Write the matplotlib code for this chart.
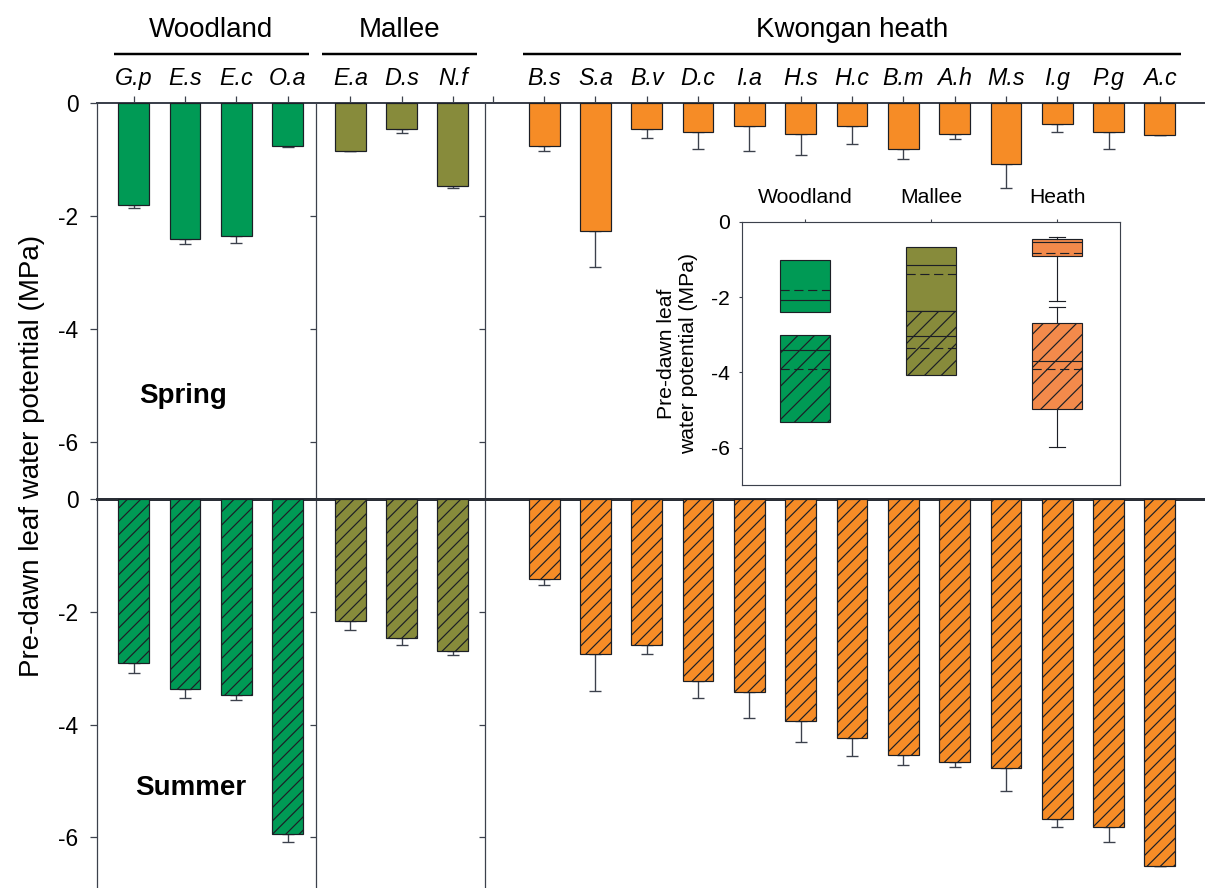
import numpy as np
import matplotlib
matplotlib.use('Agg')
import matplotlib.pyplot as plt
from matplotlib.lines import TICKLEFT
from matplotlib.transforms import blended_transform_factory

W, H, DPI = 1205, 888, 200


def pt(px):
    # sizes below are given in output pixels
    return px * 72 / DPI


plt.rcParams['font.family'] = ['Liberation Sans', 'DejaVu Sans']
plt.rcParams['axes.unicode_minus'] = False
plt.rcParams['hatch.linewidth'] = pt(1.2)

# species codes per vegetation type
woodland = ['G.p', 'E.s', 'E.c', 'O.a']
mallee = ['E.a', 'D.s', 'N.f']
heath = ['B.s', 'S.a', 'B.v', 'D.c', 'I.a', 'H.s', 'H.c', 'B.m', 'A.h', 'M.s', 'I.g', 'P.g', 'A.c']

# spring pre-dawn leaf water potential (MPa), mean and SE
spring_woodland = [-1.80, -2.41, -2.36, -0.77]
spring_woodland_se = [0.06, 0.08, 0.12, 0.02]
spring_mallee = [-0.86, -0.47, -1.47]
spring_mallee_se = [0.0, 0.06, 0.03]
spring_heath = [-0.76, -2.26, -0.47, -0.52, -0.41, -0.55, -0.41, -0.82, -0.55, -1.08, -0.37, -0.52, -0.57]
spring_heath_se = [0.10, 0.65, 0.15, 0.29, 0.45, 0.38, 0.32, 0.17, 0.09, 0.42, 0.14, 0.29, 0.0]

# summer
summer_woodland = [-2.91, -3.37, -3.47, -5.94]
summer_woodland_se = [0.18, 0.15, 0.09, 0.14]
summer_mallee = [-2.17, -2.46, -2.70]
summer_mallee_se = [0.16, 0.13, 0.06]
summer_heath = [-1.42, -2.75, -2.59, -3.23, -3.43, -3.93, -4.23, -4.54, -4.67, -4.77, -5.67, -5.81, -6.51]
summer_heath_se = [0.10, 0.65, 0.16, 0.29, 0.45, 0.38, 0.32, 0.17, 0.09, 0.41, 0.14, 0.28, 0.0]

# inset box statistics per vegetation type (nan = no whisker)
inset_types = ['Woodland', 'Mallee', 'Heath']
spring_q1 = [-2.39, -2.37, -0.91]
spring_q3 = [-1.02, -0.68, -0.47]
spring_med = [-2.07, -1.16, -0.55]
spring_mean = [-1.82, -1.39, -0.82]
spring_lo = [np.nan, np.nan, -2.10]
spring_hi = [np.nan, np.nan, -0.41]
summer_q1 = [-5.32, -4.08, -4.98]
summer_q3 = [-3.00, -2.37, -2.68]
summer_med = [-3.41, -3.03, -3.70]
summer_mean = [-3.91, -3.36, -3.90]
summer_lo = [np.nan, np.nan, -5.98]
summer_hi = [np.nan, np.nan, -2.26]

GREEN = '#009a55'
OLIVE = '#878b3b'
ORANGE = '#f68c26'
SALMON = '#f38a4b'
EDGE = '#1c1f26'
AXIS = '#3c414c'

fig = plt.figure(figsize=(W / DPI, H / DPI), dpi=DPI)


def px_box(x0, y0, x1, y1):
    return [x0 / W, 1 - y1 / H, (x1 - x0) / W, (y1 - y0) / H]


ax_sp = fig.add_axes(px_box(97.3, 102.7, W, 499))
ax_su = fig.add_axes(px_box(97.3, 499, W, H))

# slot positions along x
x_wood = np.arange(len(woodland)) + 0.71
x_mal = np.arange(len(mallee)) + 4.93
x_gap = 7.71
x_heath = np.arange(len(heath)) + 8.71
seps = [4.26, 7.56]


def draw_bars(ax, series, hatch):
    for x, vals, se, col in series:
        se = np.asarray(se)
        ax.bar(x, vals, width=0.6, color=col, edgecolor=EDGE, linewidth=pt(1.2),
               hatch=hatch, zorder=3)
        ax.errorbar(x, vals, yerr=[se, np.zeros_like(se)], fmt='none', ecolor=AXIS,
                    elinewidth=pt(1.35), capsize=pt(6.1), capthick=pt(1.35), zorder=2)


draw_bars(ax_sp, [(x_wood, spring_woodland, spring_woodland_se, GREEN),
                  (x_mal, spring_mallee, spring_mallee_se, OLIVE),
                  (x_heath, spring_heath, spring_heath_se, ORANGE)], None)
draw_bars(ax_su, [(x_wood, summer_woodland, summer_woodland_se, GREEN),
                  (x_mal, summer_mallee, summer_mallee_se, OLIVE),
                  (x_heath, summer_heath, summer_heath_se, ORANGE)], '/////')

for ax, ylo in ((ax_sp, -7), (ax_su, -6.897)):
    ax.set_xlim(0, 21.59)
    ax.set_ylim(ylo, 0)
    ax.spines[['right', 'bottom']].set_visible(False)
    for side in ('left', 'top'):
        ax.spines[side].set_color(AXIS)
    ax.spines['left'].set_linewidth(pt(1.25))
    ax.set_yticks([0, -2, -4, -6], ['0', '-2', '-4', '-6'])
    ax.tick_params(axis='y', direction='out', length=pt(6.7), width=pt(1.25),
                   color=AXIS, pad=pt(12.2), labelsize=pt(22.8))
    for s in seps:
        ax.axvline(s, color=AXIS, lw=pt(1.25), zorder=1)
        ax.plot([s] * 3, [-2, -4, -6], ls='none', marker=TICKLEFT, ms=pt(5.6),
                mew=pt(1.25), color=AXIS, clip_on=False)
ax_sp.spines['top'].set_linewidth(pt(2.0))
ax_su.spines['top'].set_linewidth(pt(3.0))
ax_su.spines['top'].set_color('#2a2e36')

ax_sp.xaxis.tick_top()
ax_sp.set_xticks(list(x_wood) + list(x_mal) + [x_gap] + list(x_heath),
                 woodland + mallee + [''] + heath, fontstyle='italic', fontsize=pt(23.3))
ax_sp.tick_params(axis='x', direction='out', length=pt(6.7), width=pt(1.25),
                  color=AXIS, pad=pt(5.6))
ax_su.set_xticks([])

# vegetation headers with underline
tr = blended_transform_factory(ax_sp.transData, fig.transFigure)
for name, xs, m0, m1 in (('Woodland', x_wood, 0.39, 0.42),
                         ('Mallee', x_mal, 0.56, 0.48),
                         ('Kwongan heath', x_heath, 0.41, 0.42)):
    a, b = xs[0] - m0, xs[-1] + m1
    ax_sp.plot([a, b], [1 - 54.5 / H] * 2, color='black', lw=pt(2.45), transform=tr,
               clip_on=False, solid_capstyle='butt')
    ax_sp.text((a + b) / 2, 1 - 30 / H, name, transform=tr, ha='center', va='center',
               fontsize=pt(27.8))

ax_sp.text(1.68, -5.30, 'Spring', ha='center', va='baseline', fontsize=pt(27.8),
           fontweight='bold')
ax_su.text(1.83, -5.25, 'Summer', ha='center', va='baseline', fontsize=pt(27.8),
           fontweight='bold')

fig.text(32 / W, 1 - 456 / H, 'Pre-dawn leaf water potential (MPa)', rotation=90,
         ha='center', va='center', fontsize=pt(27.8))

# inset: distribution per vegetation type
ax_in = fig.add_axes(px_box(742, 221.7, 1120.3, 485.3))
ax_in.set_facecolor('white')
inset_cols = [GREEN, OLIVE, SALMON]
for q1s, q3s, meds, means, los, his, hatch in (
        (spring_q1, spring_q3, spring_med, spring_mean, spring_lo, spring_hi, None),
        (summer_q1, summer_q3, summer_med, summer_mean, summer_lo, summer_hi, '////')):
    for i in range(len(inset_types)):
        has_whisk = not np.isnan(los[i])
        st = dict(q1=q1s[i], q3=q3s[i], med=meds[i], mean=means[i], fliers=[],
                  whislo=los[i] if has_whisk else q1s[i],
                  whishi=his[i] if has_whisk else q3s[i])
        lw = pt(1.15)
        ax_in.bxp([st], positions=[i + 0.5], widths=0.4, patch_artist=True,
                  showmeans=True, meanline=True, showcaps=has_whisk, showfliers=False,
                  capwidths=0.13, manage_ticks=False,
                  boxprops=dict(facecolor=inset_cols[i], edgecolor=EDGE, linewidth=lw,
                                hatch=hatch),
                  medianprops=dict(color=EDGE, lw=lw),
                  meanprops=dict(color=EDGE, lw=lw, ls=(0, (8, 4))),
                  whiskerprops=dict(color=EDGE, lw=lw),
                  capprops=dict(color=EDGE, lw=lw))

ax_in.set_xlim(0, 3)
ax_in.set_ylim(-7, 0)
for sp in ax_in.spines.values():
    sp.set_color(AXIS)
    sp.set_linewidth(pt(1.15))
ax_in.xaxis.tick_top()
ax_in.set_xticks([0.5, 1.5, 2.5], inset_types, fontsize=pt(21.1))
ax_in.set_yticks([0, -2, -4, -6], ['0', '-2', '-4', '-6'], fontsize=pt(21.1))
ax_in.tick_params(axis='x', direction='out', length=pt(3.3), width=pt(1.1),
                  color=AXIS, pad=pt(11.1))
ax_in.tick_params(axis='y', direction='out', length=pt(3.3), width=pt(1.1),
                  color=AXIS, pad=pt(8.9))
ax_in.set_ylabel('Pre-dawn leaf\nwater potential (MPa)', fontsize=pt(21.1),
                 labelpad=pt(13.3), linespacing=1.15)

fig.savefig('out.png', dpi=DPI)
